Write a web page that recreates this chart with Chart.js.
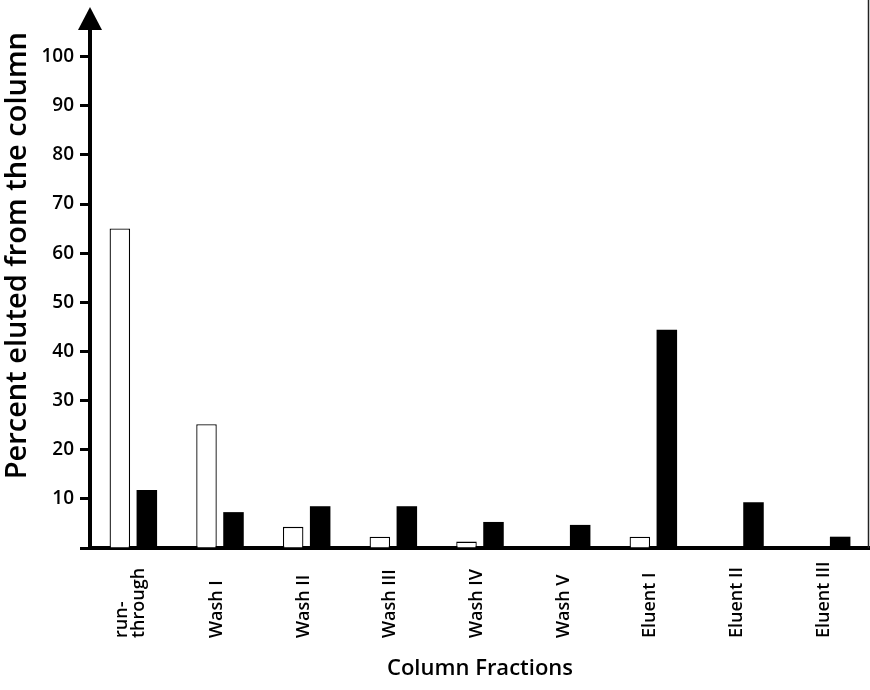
<!DOCTYPE html>
<html>
<head>
<meta charset="utf-8">
<title>Percent eluted from the column</title>
<script src="https://cdn.jsdelivr.net/npm/chart.js"></script>
<style>
  html, body { margin: 0; padding: 0; background: #fff; overflow: hidden; }
</style>
</head>
<body>
<canvas id="myChart" width="870" height="690"></canvas>
<script>
const fractions = [['run-', 'through'], 'Wash I', 'Wash II', 'Wash III', 'Wash IV', 'Wash V', 'Eluent I', 'Eluent II', 'Eluent III'];
const openBars = [65, 25.2, 4.3, 2.3, 1.3, 0, 2.3, 0, 0];
const filledBars = [11.8, 7.3, 8.5, 8.5, 5.3, 4.7, 44.4, 9.3, 2.3];
const yTicks = [10, 20, 30, 40, 50, 60, 70, 80, 90, 100];

const FONT = '"Open Sans", "DejaVu Sans", sans-serif';

// arrow on the y axis, right edge line, bottom-aligned rotated category labels
const decor = {
  id: 'decor',
  afterDraw(chart) {
    const ctx = chart.ctx;
    const xs = chart.scales.x;
    const ys = chart.scales.y;
    const area = chart.chartArea;
    const ax = ys.right;
    ctx.save();
    ctx.fillStyle = '#000';
    ctx.beginPath();
    ctx.moveTo(ax, 7);
    ctx.lineTo(ax - 12, 30);
    ctx.lineTo(ax + 12, 30);
    ctx.closePath();
    ctx.fill();
    ctx.fillRect(ax - 2, 28, 4, area.top - 27);

    ctx.strokeStyle = '#222';
    ctx.lineWidth = 1.5;
    ctx.beginPath();
    ctx.moveTo(868.5, 0);
    ctx.lineTo(868.5, area.bottom);
    ctx.stroke();

    ctx.font = '600 18px ' + FONT;
    ctx.textAlign = 'left';
    ctx.textBaseline = 'middle';
    fractions.forEach((lab, i) => {
      const lines = Array.isArray(lab) ? lab : [lab];
      const cx = xs.getPixelForValue(i) - 3;
      lines.forEach((t, j) => {
        const lx = cx + (j - (lines.length - 1) / 2) * 17;
        ctx.save();
        ctx.translate(lx, area.bottom + 90);
        ctx.rotate(-Math.PI / 2);
        ctx.fillText(t, 0, 0);
        ctx.restore();
      });
    });
    ctx.restore();
  }
};

const ctx = document.getElementById('myChart').getContext('2d');
const myChart = new Chart(ctx, {
  type: 'bar',
  data: {
    labels: fractions,
    datasets: [{
      label: 'open',
      data: openBars,
      backgroundColor: '#fff',
      borderColor: '#000',
      borderWidth: 1.3,
      barPercentage: 0.76,
      categoryPercentage: 0.623
    }, {
      label: 'filled',
      data: filledBars,
      backgroundColor: '#000',
      borderWidth: 0,
      barPercentage: 0.76,
      categoryPercentage: 0.623
    }]
  },
  options: {
    responsive: false,
    animation: false,
    layout: { padding: { top: 32, right: 0, bottom: 0, left: 0 } },
    plugins: {
      legend: { display: false },
      tooltip: { enabled: false }
    },
    scales: {
      x: {
        z: 1,
        afterFit: s => { s.height = 142; },
        grid: { display: true, drawOnChartArea: false, drawTicks: false },
        border: { display: true, color: '#000', width: 4 },
        ticks: { display: false },
        title: {
          display: true,
          text: 'Column Fractions',
          color: '#000',
          font: { family: FONT, size: 22, weight: '600' },
          padding: { top: 0, bottom: 8 }
        }
      },
      y: {
        min: 0,
        max: 105,
        afterBuildTicks: s => { s.ticks = [0].concat(yTicks).map(v => ({ value: v })); },
        afterFit: s => { s.width = 90; },
        grid: { drawOnChartArea: false, drawTicks: true, tickLength: 10, tickWidth: 3, tickColor: '#000' },
        border: { display: true, color: '#000', width: 4 },
        ticks: {
          padding: 6,
          color: '#000',
          font: { family: FONT, size: 19, weight: '600' },
          callback: v => (yTicks.includes(v) ? v : '')
        },
        title: {
          display: true,
          text: 'Percent eluted from the column',
          align: 'end',
          color: '#000',
          font: { family: FONT, size: 29, weight: '600' },
          padding: { top: 0, bottom: 0 }
        }
      }
    }
  },
  plugins: [decor]
});
</script>
</body>
</html>
